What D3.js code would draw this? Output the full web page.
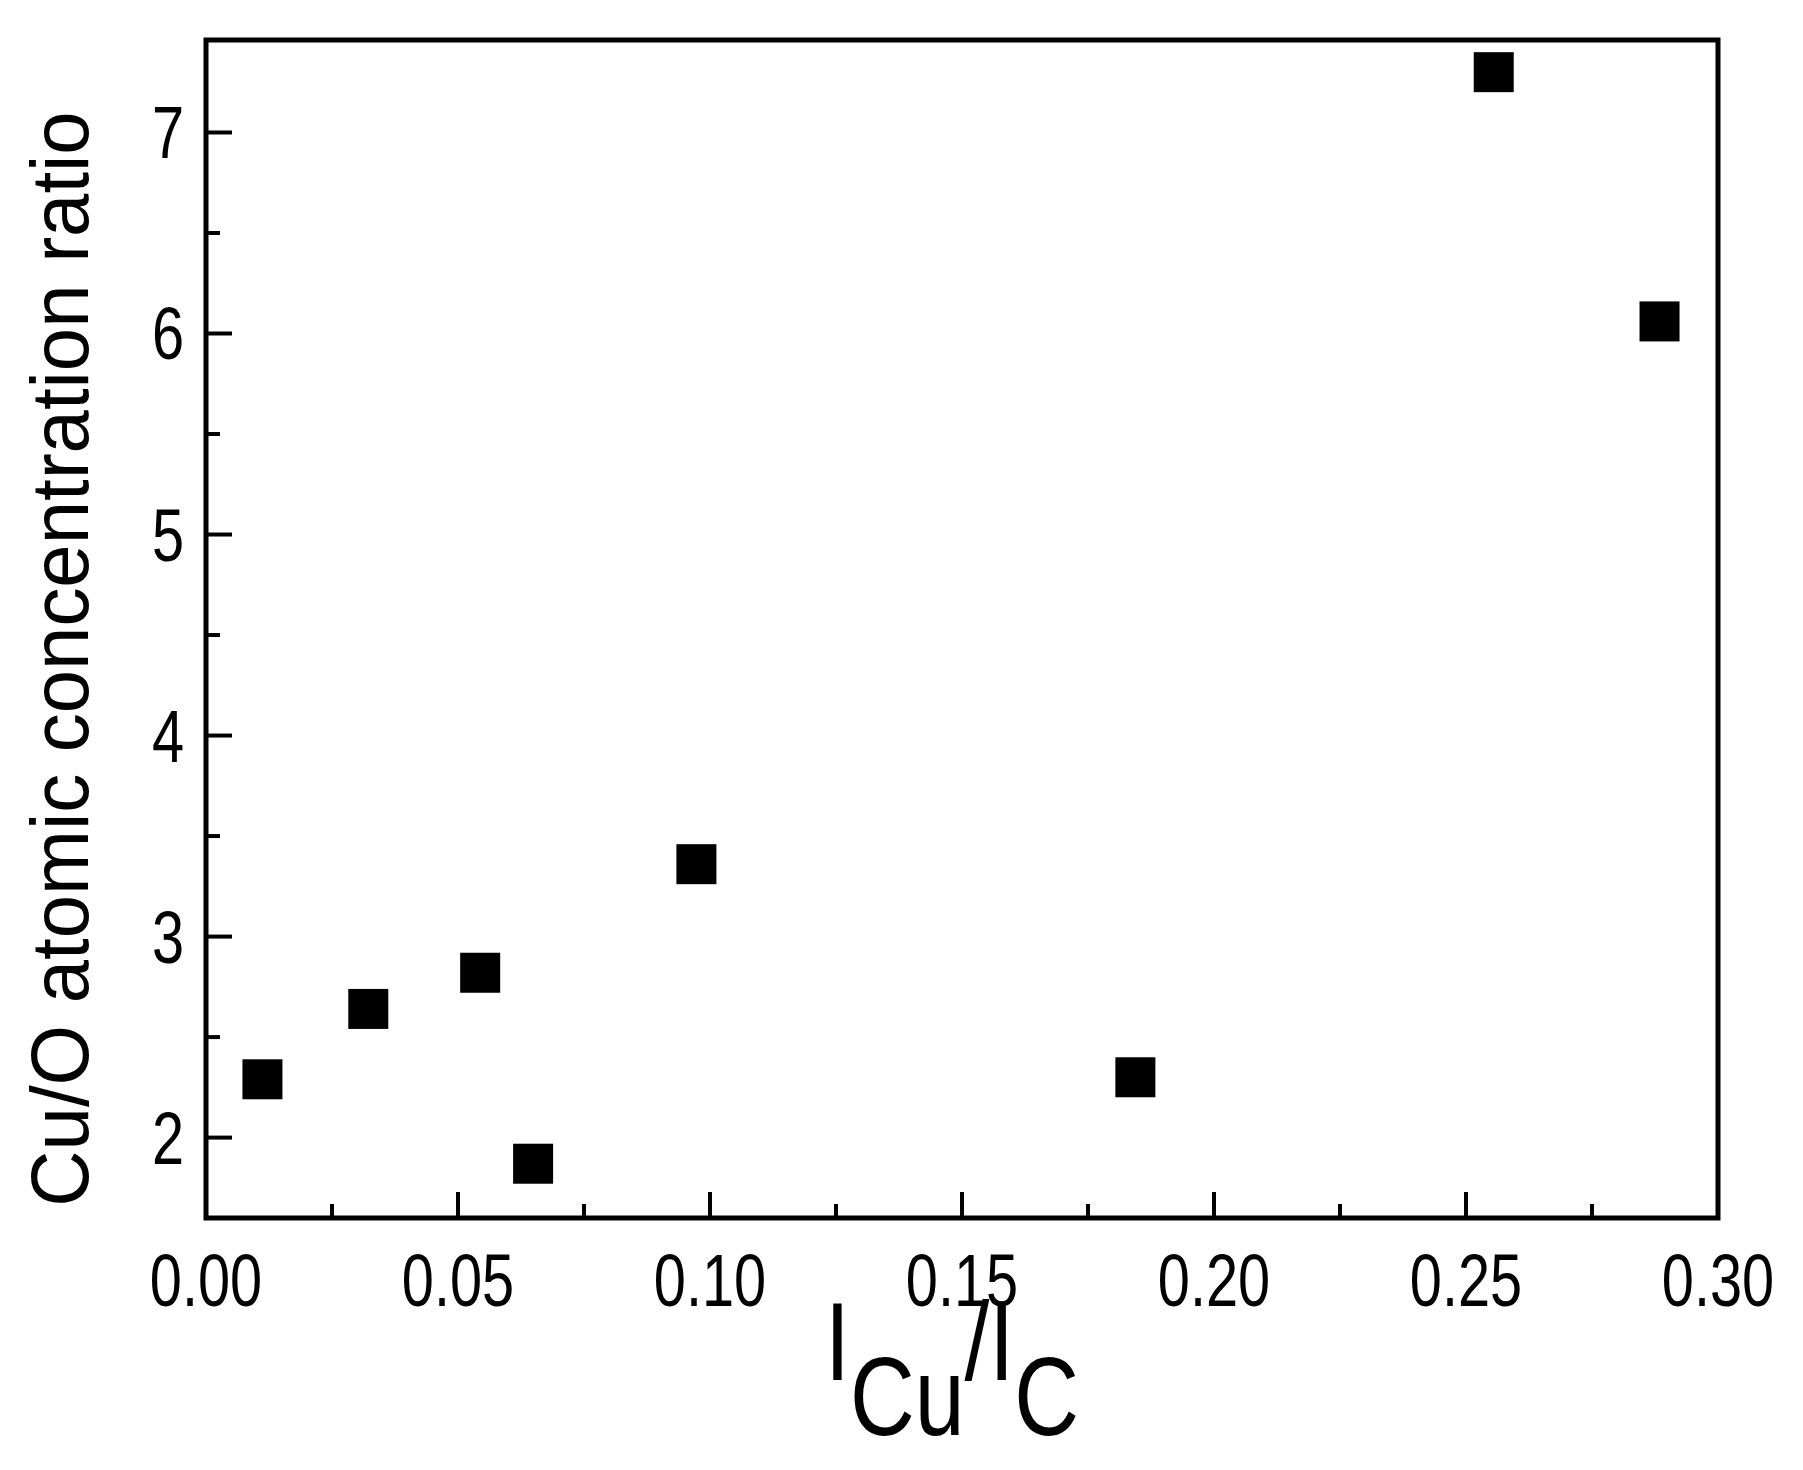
<!DOCTYPE html><html><head><meta charset="utf-8"><script src="https://cdn.jsdelivr.net/npm/d3@7"></script>
<style>body{margin:0;background:#fff}</style></head><body><svg id="c" width="1803" height="1470"></svg>
<script>
const xVals=[0.0112,0.0322,0.0544,0.0649,0.0973,0.1844,0.2555,0.2884];
const yVals=[2.29,2.64,2.82,1.87,3.36,2.30,7.30,6.06];
const xTicks=[0,0.05,0.10,0.15,0.20,0.25,0.30];
const yTicks=[2,3,4,5,6,7];
const svg=d3.select("#c");
const L=206,R=1718,T=40,B=1218;
const x=d3.scaleLinear().domain([0,0.30]).range([L,R]);
const y=d3.scaleLinear().domain([1.6,7.46]).range([B,T]);
const font="'Liberation Sans',Arial,sans-serif";
const g=svg.append("g");
d3.range(0.025,0.3,0.05).forEach(v=>g.append("line").attr("x1",x(v)).attr("x2",x(v)).attr("y1",B).attr("y2",B-14).attr("stroke","#000").attr("stroke-width",4));
d3.range(2.5,7.5,1).forEach(v=>g.append("line").attr("x1",L).attr("x2",L+14).attr("y1",y(v)).attr("y2",y(v)).attr("stroke","#000").attr("stroke-width",4));
xTicks.forEach(v=>{g.append("line").attr("x1",x(v)).attr("x2",x(v)).attr("y1",B).attr("y2",B-26).attr("stroke","#000").attr("stroke-width",4);
 g.append("text").attr("transform",`translate(${x(v)},${B+88}) scale(0.78,1)`).attr("text-anchor","middle").attr("font-family",font).attr("font-size",74).text(v.toFixed(2));});
yTicks.forEach(v=>{g.append("line").attr("x1",L).attr("x2",L+26).attr("y1",y(v)).attr("y2",y(v)).attr("stroke","#000").attr("stroke-width",4);
 g.append("text").attr("transform",`translate(${L-22},${y(v)+26}) scale(0.78,1)`).attr("text-anchor","end").attr("font-family",font).attr("font-size",74).text(v);});
g.append("rect").attr("x",L).attr("y",T).attr("width",R-L).attr("height",B-T).attr("fill","none").attr("stroke","#000").attr("stroke-width",5);
const s=40;
g.selectAll(".p").data(xVals).enter().append("rect").attr("x",(d)=>x(d)-s/2).attr("y",(d,i)=>y(yVals[i])-s/2).attr("width",s).attr("height",s).attr("fill","#000");
g.append("text").attr("transform",`translate(88,${(T+B)/2+30}) rotate(-90) scale(0.95,1)`).attr("text-anchor","middle").attr("font-family",font).attr("font-size",82).text("Cu/O atomic concentration ratio");
const xl=g.append("text").attr("transform",`translate(${(L+R)/2-10},1380) scale(0.8,1)`).attr("text-anchor","middle").attr("font-family",font).attr("font-size",112);
xl.append("tspan").text("I");xl.append("tspan").attr("dy",55).text("Cu");xl.append("tspan").attr("dy",-55).text("/I");xl.append("tspan").attr("dy",55).text("C");
</script></body></html>
